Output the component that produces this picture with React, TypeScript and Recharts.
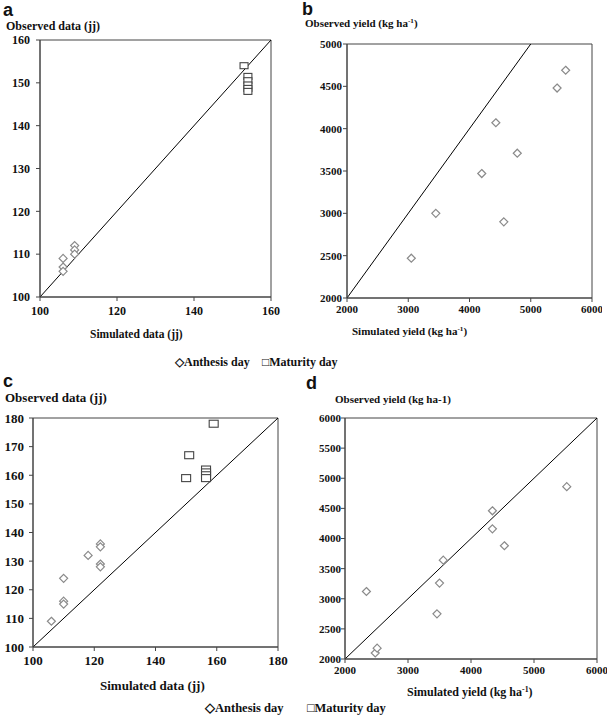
import { ReferenceArea, ReferenceLine, Scatter, ScatterChart, XAxis, YAxis } from 'recharts'

// panel a: phenology, calibration
const anthesisA = [
  { x: 106, y: 109 },
  { x: 106, y: 107 },
  { x: 106, y: 106 },
  { x: 109, y: 112 },
  { x: 109, y: 111 },
  { x: 109, y: 110 },
]
const maturityA = [
  { x: 153, y: 154 },
  { x: 154, y: 151.5 },
  { x: 154, y: 150.5 },
  { x: 154, y: 149.5 },
  { x: 154, y: 148.7 },
  { x: 154, y: 148 },
]

// panel b: yield, calibration
const yieldB = [
  { x: 3050, y: 2470 },
  { x: 3450, y: 3000 },
  { x: 4200, y: 3470 },
  { x: 4430, y: 4070 },
  { x: 4780, y: 3710 },
  { x: 4560, y: 2900 },
  { x: 5430, y: 4480 },
  { x: 5570, y: 4690 },
]

// panel c: phenology, validation
const anthesisC = [
  { x: 106, y: 109 },
  { x: 110, y: 124 },
  { x: 110, y: 116 },
  { x: 110, y: 115 },
  { x: 118, y: 132 },
  { x: 122, y: 136 },
  { x: 122, y: 135 },
  { x: 122, y: 129 },
  { x: 122, y: 128 },
]
const maturityC = [
  { x: 159, y: 178 },
  { x: 151, y: 167 },
  { x: 150, y: 159 },
  { x: 156.5, y: 162 },
  { x: 156.5, y: 161 },
  { x: 156.5, y: 160 },
  { x: 156.5, y: 159 },
]

// panel d: yield, validation
const yieldD = [
  { x: 2340, y: 3120 },
  { x: 2480, y: 2100 },
  { x: 2510, y: 2180 },
  { x: 3460, y: 2750 },
  { x: 3500, y: 3260 },
  { x: 3560, y: 3640 },
  { x: 4340, y: 4460 },
  { x: 4340, y: 4160 },
  { x: 4530, y: 3880 },
  { x: 5520, y: 4860 },
]

const dayTicksA = [100, 120, 140, 160]
const dayTicksAY = [100, 110, 120, 130, 140, 150, 160]
const dayTicksC = [100, 120, 140, 160, 180]
const dayTicksCY = [100, 110, 120, 130, 140, 150, 160, 170, 180]
const yieldTicksX = [2000, 3000, 4000, 5000, 6000]
const yieldTicksB = [2000, 2500, 3000, 3500, 4000, 4500, 5000]
const yieldTicksD = [2000, 2500, 3000, 3500, 4000, 4500, 5000, 5500, 6000]

const serif = '"Liberation Serif", "Times New Roman", serif'
const ink = '#111'

function diamond(r: number) {
  return (p: any) => (
    <polygon
      points={`${p.cx},${p.cy - r} ${p.cx + r},${p.cy} ${p.cx},${p.cy + r} ${p.cx - r},${p.cy}`}
      fill="#fff"
      stroke="#8a8a8a"
      strokeWidth={1.2}
    />
  )
}

function square(w: number, h: number) {
  return (p: any) => (
    <rect x={p.cx - w / 2} y={p.cy - h / 2} width={w} height={h} fill="#fff" stroke="#444" strokeWidth={1.1} />
  )
}

type Series = { data: { x: number; y: number }[]; shape: (p: any) => any }

function Panel({
  box,
  yAxisW,
  xDomain,
  yDomain,
  xTicks,
  yTicks,
  line,
  series,
  fontSize,
  xGap,
  yGap,
}: {
  box: [number, number, number, number]
  yAxisW: number
  xDomain: [number, number]
  yDomain: [number, number]
  xTicks: number[]
  yTicks: number[]
  line: [number, number]
  series: Series[]
  fontSize: number
  xGap: number
  yGap: number
}) {
  const [x0, y0, x1, y1] = box
  const left = x0 - yAxisW
  const top = y0 - 10
  const width = x1 - left + 10
  const height = y1 - top + 30
  const tick = { fontFamily: serif, fontWeight: 700, fontSize, fill: ink }
  return (
    <div style={{ position: 'absolute', left, top }}>
      <ScatterChart width={width} height={height} margin={{ top: 10, right: 10, left: 0, bottom: 0 }}>
        <XAxis
          type="number"
          dataKey="x"
          domain={xDomain}
          ticks={xTicks}
          height={30}
          tick={tick}
          tickSize={4}
          tickMargin={xGap}
          stroke="#444"
          interval={0}
        />
        <YAxis
          type="number"
          dataKey="y"
          domain={yDomain}
          ticks={yTicks}
          width={yAxisW}
          tick={tick}
          tickSize={4}
          tickMargin={yGap}
          stroke="#444"
          interval={0}
        />
        <ReferenceArea x1={xDomain[0]} x2={xDomain[1]} y1={yDomain[0]} y2={yDomain[1]} fill="none" stroke="#444" />
        <ReferenceLine
          segment={[
            { x: line[0], y: line[0] },
            { x: line[1], y: line[1] },
          ]}
          stroke="#000"
          strokeWidth={1}
        />
        {series.map((s, i) => (
          <Scatter key={i} data={s.data} shape={s.shape} isAnimationActive={false} />
        ))}
      </ScatterChart>
    </div>
  )
}

function Txt({ x, y, size, sans, children }: { x: number; y: number; size: number; sans?: boolean; children: any }) {
  return (
    <div
      style={{
        position: 'absolute',
        left: x,
        top: y,
        fontSize: size,
        lineHeight: 1,
        fontWeight: 700,
        fontFamily: sans ? '"Liberation Sans", Arial, sans-serif' : serif,
        color: ink,
        whiteSpace: 'nowrap',
      }}
    >
      {children}
    </div>
  )
}

const sup = { fontSize: '0.65em', verticalAlign: '0.5em' }

export default function App() {
  return (
    <div style={{ position: 'absolute', left: 0, top: 0, width: 609, height: 716, background: '#fff', overflow: 'hidden' }}>
      <style>{`.recharts-cartesian-axis-tick-value { font-weight: 700; font-family: ${serif}; }`}</style>
      <Panel
        box={[40, 40, 271, 297]}
        yAxisW={40}
        xDomain={[100, 160]}
        yDomain={[100, 160]}
        xTicks={dayTicksA}
        yTicks={dayTicksAY}
        line={[100, 160]}
        series={[
          { data: anthesisA, shape: diamond(4) },
          { data: maturityA, shape: square(8, 6) },
        ]}
        fontSize={12}
        xGap={5}
        yGap={6}
      />
      <Panel
        box={[347, 44, 592, 298]}
        yAxisW={47}
        xDomain={[2000, 6000]}
        yDomain={[2000, 5000]}
        xTicks={yieldTicksX}
        yTicks={yieldTicksB}
        line={[2000, 5000]}
        series={[{ data: yieldB, shape: diamond(4) }]}
        fontSize={11}
        xGap={3}
        yGap={1}
      />
      <Panel
        box={[33, 418, 278, 647]}
        yAxisW={33}
        xDomain={[100, 180]}
        yDomain={[100, 180]}
        xTicks={dayTicksC}
        yTicks={dayTicksCY}
        line={[100, 180]}
        series={[
          { data: anthesisC, shape: diamond(4) },
          { data: maturityC, shape: square(9, 7) },
        ]}
        fontSize={13}
        xGap={5}
        yGap={5}
      />
      <Panel
        box={[345, 418, 597, 659]}
        yAxisW={45}
        xDomain={[2000, 6000]}
        yDomain={[2000, 6000]}
        xTicks={yieldTicksX}
        yTicks={yieldTicksD}
        line={[2000, 6000]}
        series={[{ data: yieldD, shape: diamond(4) }]}
        fontSize={11}
        xGap={3}
        yGap={0}
      />

      <Txt x={3} y={1} size={18} sans>a</Txt>
      <Txt x={6} y={20} size={12}>Observed data (jj)</Txt>
      <Txt x={90} y={329} size={11.5}>Simulated data (jj)</Txt>

      <Txt x={302} y={0} size={18} sans>b</Txt>
      <Txt x={305} y={18} size={11}>
        Observed yield (kg ha<span style={sup}>-1</span>)
      </Txt>
      <Txt x={352} y={326} size={11}>
        Simulated yield (kg ha<span style={sup}>-1</span>)
      </Txt>

      <Txt x={175} y={356} size={12}>◇Anthesis day</Txt>
      <Txt x={262} y={356} size={12}>□Maturity day</Txt>

      <Txt x={3} y={372} size={18} sans>c</Txt>
      <Txt x={5} y={391} size={13}>Observed data (jj)</Txt>
      <Txt x={100} y={679} size={13}>Simulated data (jj)</Txt>
      <Txt x={205} y={702} size={12.5}>◇Anthesis day</Txt>

      <Txt x={306} y={374} size={18} sans>d</Txt>
      <Txt x={335} y={394} size={11}>Observed yield (kg ha-1)</Txt>
      <Txt x={407} y={686} size={12}>
        Simulated yield (kg ha<span style={sup}>-1</span>)
      </Txt>
      <Txt x={307} y={702} size={12.5}>□Maturity day</Txt>
    </div>
  )
}
